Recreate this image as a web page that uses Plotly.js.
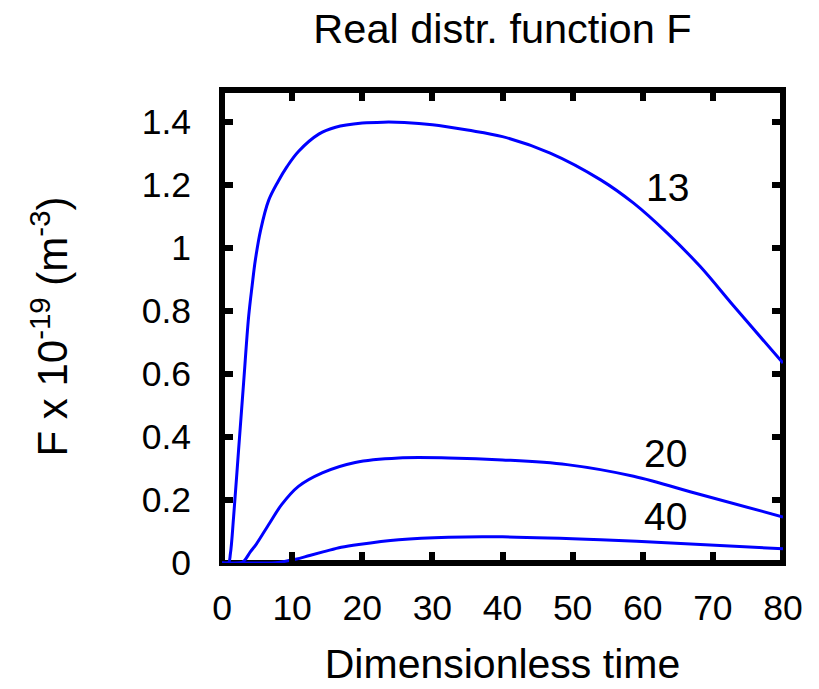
<!DOCTYPE html>
<html>
<head>
<meta charset="utf-8">
<script src="https://cdn.plot.ly/plotly-3.0.1.min.js"></script>
<style>html,body{margin:0;padding:0;background:#fff;}#chart{width:819px;height:689px;}</style>
</head>
<body>
<div id="chart"></div>
<script>
// Curve labelled 13
const x13 = [0, 0.9, 1.2, 1.66, 2.37, 3.08, 3.8, 4.3, 4.75, 5.5, 6.65, 8, 9.27, 10.9, 13.8, 16.2, 20, 23, 26, 30, 35, 40, 46.8, 54, 58.7, 63.5, 68.2, 73, 80];
const y13 = [0, 0, 0.03, 0.148, 0.36, 0.571, 0.782, 0.88, 0.96, 1.055, 1.15, 1.21, 1.257, 1.305, 1.36, 1.382, 1.395, 1.398, 1.397, 1.39, 1.373, 1.352, 1.30, 1.215, 1.141, 1.046, 0.94, 0.814, 0.634];
// Curve labelled 20
const x20 = [0, 2.6, 3.2, 4.04, 4.9, 6.8, 8.5, 10.9, 14.3, 19, 25.2, 32.3, 40, 49.2, 58.7, 68.2, 80];
const y20 = [0, 0, 0.008, 0.035, 0.06, 0.127, 0.185, 0.243, 0.286, 0.319, 0.333, 0.333, 0.327, 0.312, 0.275, 0.217, 0.146];
// Curve labelled 40
const x40 = [0, 5, 8, 10.5, 12.5, 14.7, 17, 19.5, 25.2, 32.3, 40, 54, 68.2, 80];
const y40 = [0, 0, 0.002, 0.012, 0.024, 0.037, 0.05, 0.059, 0.074, 0.082, 0.083, 0.074, 0.059, 0.045];

const curveLabels = ["13", "20", "40"];
const labelX = [63.5, 63.2, 63.2];
const labelY = [1.19, 0.347, 0.149];

const xTicks = [0, 10, 20, 30, 40, 50, 60, 70, 80];
const yTicks = [0, 0.2, 0.4, 0.6, 0.8, 1, 1.2, 1.4];
const yTickText = ["0", "0.2", "0.4", "0.6", "0.8", "1", "1.2", "1.4"];

const FONT = "Liberation Sans, Arial, Helvetica, sans-serif";
const lineStyle = {color: "#0000ff", width: 3, shape: "spline", smoothing: 1};

const traces = [
  {x: x13, y: y13, mode: "lines", line: lineStyle, hoverinfo: "skip"},
  {x: x20, y: y20, mode: "lines", line: lineStyle, hoverinfo: "skip"},
  {x: x40, y: y40, mode: "lines", line: lineStyle, hoverinfo: "skip"}
];

const annotations = curveLabels.map((t, i) => ({
  x: labelX[i], y: labelY[i], xref: "x", yref: "y", text: t, showarrow: false,
  font: {family: FONT, size: 39, color: "#000"}, xanchor: "center", yanchor: "middle"
}));

const layout = {
  width: 819, height: 689,
  margin: {l: 221.7, r: 36.3, t: 90.1, b: 125.5, pad: 0},
  paper_bgcolor: "#fff", plot_bgcolor: "#fff",
  showlegend: false,
  font: {family: FONT, size: 36, color: "#000"},
  title: {text: "Real distr. function F", font: {family: FONT, size: 41.5, color: "#000"},
          x: 0.5, xref: "paper", y: 0.958, yref: "container", xanchor: "center", yanchor: "middle"},
  xaxis: {
    range: [0, 80], tickvals: xTicks, ticktext: xTicks.map(String),
    ticks: "inside", ticklen: 11, tickwidth: 6, tickcolor: "#000", mirror: "ticks",
    showline: false, showgrid: false, zeroline: false, ticklabelstandoff: 20,
    tickfont: {family: FONT, size: 35.5, color: "#000"},
    title: {text: "Dimensionless time", font: {family: FONT, size: 41, color: "#000"}, standoff: 22}
  },
  yaxis: {
    range: [0, 1.5], tickvals: yTicks, ticktext: yTickText,
    ticks: "inside", ticklen: 11, tickwidth: 6, tickcolor: "#000", mirror: "ticks",
    showline: false, showgrid: false, zeroline: false, ticklabelstandoff: 30,
    tickfont: {family: FONT, size: 35.5, color: "#000"},
    title: {text: "F x 10<sup>-19</sup> (m<sup>-3</sup>)", font: {family: FONT, size: 42, color: "#000"}, standoff: 60}
  },
  shapes: [{type: "rect", xref: "paper", yref: "paper", x0: 0, x1: 1, y0: 0, y1: 1,
            line: {color: "#000", width: 6}, layer: "below"}],
  annotations: annotations
};

Plotly.newPlot("chart", traces, layout, {staticPlot: true, displayModeBar: false});
</script>
</body>
</html>
